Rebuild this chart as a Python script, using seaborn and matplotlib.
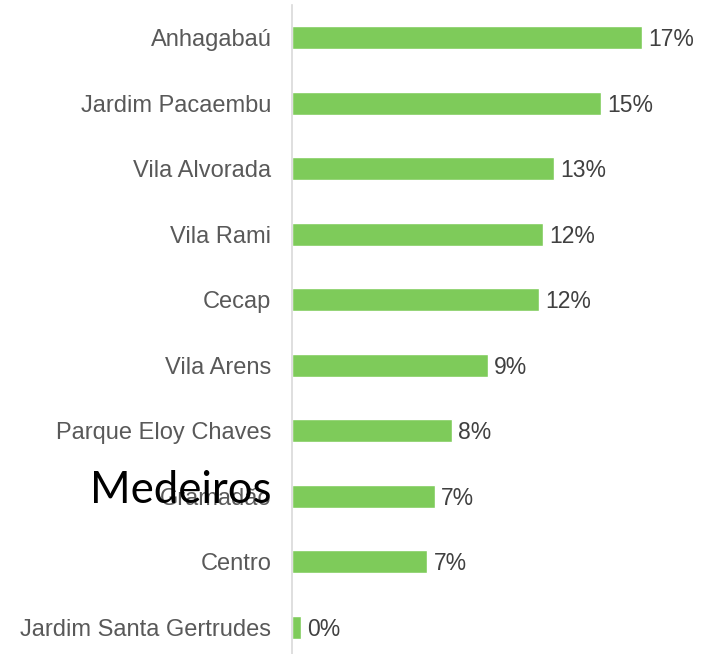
import matplotlib
matplotlib.use('Agg')
import matplotlib.pyplot as plt
import seaborn as sns
import pandas as pd

# Data (share of responses per neighbourhood, %)
bairros = ['Anhagabaú', 'Jardim Pacaembu', 'Vila Alvorada', 'Vila Rami', 'Cecap',
           'Vila Arens', 'Parque Eloy Chaves', 'Gramadão', 'Centro',
           'Jardim Santa Gertrudes']
percentuais = [16.84, 14.88, 12.61, 12.07, 11.87, 9.42, 7.70, 6.88, 6.51, 0.43]
rotulos = [f'{round(v)}%' for v in percentuais]

df = pd.DataFrame({'bairro': bairros, 'pct': percentuais})

sns.set_style('white')
plt.rcParams['font.family'] = ['Liberation Sans', 'DejaVu Sans']

fig = plt.figure(figsize=(7.14, 6.54), dpi=100)
ax = fig.add_axes([292.3 / 714, 0, 415 / 714, 649 / 654])

sns.barplot(data=df, x='pct', y='bairro', orient='h', color='#7ecb5a',
            saturation=1, width=0.35, ax=ax)

# value labels just right of each bar
for i, (v, txt) in enumerate(zip(percentuais, rotulos)):
    ax.annotate(txt, xy=(v, i), xytext=(4.5, -1.5), textcoords='offset points',
                va='center', ha='left', fontsize=16.5, color='#404040')

ax.set_xlim(0, 20)
ax.set_ylim(9.41, -0.5)
ax.set_xlabel('')
ax.set_ylabel('')
ax.set_xticks([])
ax.tick_params(axis='y', length=0, pad=15, labelsize=17, labelcolor='#595959')

sns.despine(ax=ax, top=True, right=True, bottom=True, left=False)
ax.spines['left'].set_color('#d9d9d9')
ax.spines['left'].set_linewidth(1.2)

# overlaid annotation as in the original slide
fig.text(271 / 714, 1 - 503 / 654, 'Medeiros', ha='right', va='baseline',
         fontsize=31.5, color='black', family=['Lato', 'DejaVu Sans'])

fig.savefig('out.png', dpi=100)
